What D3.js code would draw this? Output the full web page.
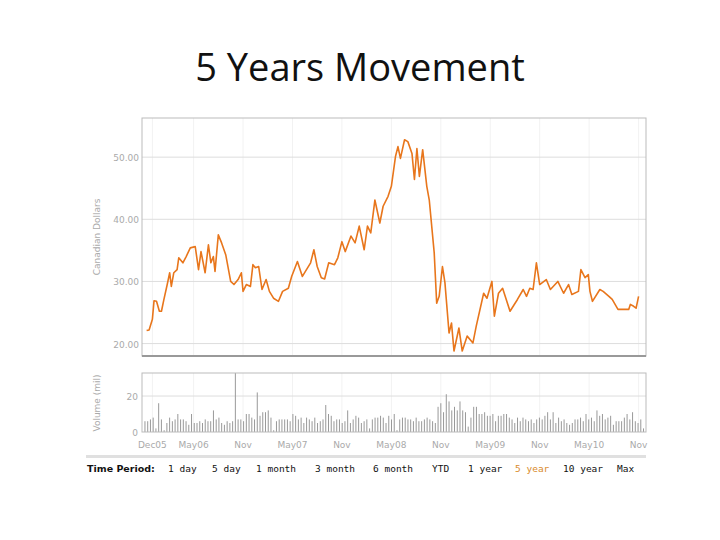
<!DOCTYPE html>
<html><head><meta charset="utf-8">
<script src="https://cdn.jsdelivr.net/npm/d3@7"></script>
<style>body{margin:0;background:#fff}text{font-family:"DejaVu Sans",sans-serif}</style>
</head><body><svg id="c" width="720" height="540"></svg>
<script>
// months since Dec 2005 and closing price (CAD)
const priceMonths = [-0.7,-0.4,0,0.2,0.5,0.85,1.1,1.4,1.8,2.1,2.3,2.6,3.0,3.2,3.7,4.1,4.6,5.2,5.6,5.9,6.4,6.8,7.1,7.4,7.6,8.0,8.4,8.9,9.5,9.9,10.4,10.8,11.0,11.4,11.9,12.2,12.5,12.9,13.3,13.8,14.2,14.7,15.3,15.8,16.5,16.9,17.6,18.2,18.7,19.2,19.6,20.0,20.5,20.9,21.4,22.1,22.5,23.0,23.4,24.1,24.6,25.1,25.7,26.1,26.5,27.0,27.6,28.0,28.6,29.0,29.5,29.8,30.1,30.6,31.0,31.5,31.8,32.1,32.4,32.8,33.3,33.6,34.2,34.5,34.8,35.2,35.5,36.0,36.3,36.6,37.2,37.6,38.2,38.9,39.3,40.2,40.6,41.2,41.5,42.0,42.5,43.4,44.3,45.0,45.4,45.8,46.2,46.6,47.0,47.8,48.3,49.2,49.9,50.5,50.9,51.7,52.0,52.5,52.9,53.1,53.4,54.3,54.7,55.4,55.8,56.5,56.9,57.8,58.0,58.4,58.7,59.0];
const prices = [22.1,22.2,23.9,26.9,26.8,25.2,25.2,27.1,29.5,31.4,29.2,31.4,31.9,33.8,33.0,34.0,35.4,35.6,31.9,34.8,31.4,35.9,33.0,34.0,31.6,37.5,36.2,34.3,30.0,29.5,30.3,31.4,28.4,29.5,29.2,32.7,32.2,32.4,28.7,30.3,28.4,27.3,26.8,28.4,28.9,30.8,33.2,30.8,31.9,33.0,35.1,32.4,30.6,30.4,33.0,32.7,33.8,36.4,34.8,37.3,36.2,38.9,35.1,38.9,37.8,43.1,39.4,42.1,43.7,45.3,50.1,51.7,49.8,52.8,52.5,50.6,46.4,51.4,46.9,51.2,45.3,43.1,34.6,26.5,27.6,32.4,29.8,21.7,23.3,18.8,22.5,18.8,21.2,20.1,22.8,28.1,27.3,30.0,24.4,28.1,28.9,25.2,27.1,28.7,27.6,28.9,28.7,33.0,29.5,30.3,28.7,30.0,28.1,29.5,27.9,28.4,31.9,30.6,31.1,28.4,26.8,28.7,28.4,27.6,27.1,25.5,25.5,25.5,26.3,26.0,25.7,27.6];
// daily volume (millions), sampled evenly across the period
const volumes = [6,6,7,8,2,16,7,1,5,8,6,7,10,7,7,6,4,10,5,5,6,5,7,6,6,12,7,8,5,4,6,5,6,33,7,7,6,10,10,8,7,22,9,11,11,12,8,1,6,7,7,7,7,6,10,9,7,8,5,8,7,6,8,5,6,7,15,10,9,6,7,7,5,6,12,5,7,9,8,5,6,7,2,7,8,8,9,8,5,9,7,10,1,7,8,8,7,7,6,8,6,6,7,8,7,6,5,14,16,11,21,17,12,14,12,17,12,11,3,8,14,14,10,10,11,9,9,10,6,9,9,10,10,8,7,5,8,6,8,7,6,7,5,7,8,7,9,11,7,11,5,8,6,7,5,4,5,7,7,8,6,10,7,8,6,12,9,10,7,8,9,4,6,6,6,8,10,7,11,6,5,7,2];
const tickMonths = [0,5,11,17,23,29,35,41,47,53,59];
const tickLabels = ["Dec05","May06","Nov","May07","Nov","May08","Nov","May09","Nov","May10","Nov"];
const priceTicks = [20,30,40,50];
const periods = ["1 day","5 day","1 month","3 month","6 month","YTD","1 year","5 year","10 year","Max"];
const periodX = [168,212,256,315,373,432,468,515,563,617];

const svg = d3.select("#c");
const orange = "#e8761c", grid = "#dddddd", lab = "#aaaaaa";
const L = 142, R = 646;
const x = d3.scaleLinear().domain([-1.26, 59.9]).range([L, R]);
const y = d3.scaleLinear().domain([18.0, 56.3]).range([356, 118]);
const yv = d3.scaleLinear().domain([0, 32.8]).range([432, 373]);

svg.append("text").attr("x", 360).attr("y", 81).attr("text-anchor", "middle")
  .style("font-family", "'Open Sans'").attr("font-size", 38).attr("fill", "#111").text("5 Years Movement");

// price panel
const g = svg.append("g");
g.selectAll(".vg").data(tickMonths).join("line").attr("x1", x).attr("x2", x)
  .attr("y1", 118).attr("y2", 356).attr("stroke", "#f2f2f2");
g.selectAll(".hg").data(priceTicks).join("line").attr("x1", L).attr("x2", R)
  .attr("y1", y).attr("y2", y).attr("stroke", grid);
g.selectAll(".yl").data(priceTicks).join("text").attr("x", 139).attr("y", d => y(d) + 4)
  .attr("text-anchor", "end").attr("font-size", 9).attr("fill", lab).text(d => d.toFixed(2));
g.append("rect").attr("x", L).attr("y", 118).attr("width", R - L).attr("height", 238)
  .attr("fill", "none").attr("stroke", "#bbb");
g.append("line").attr("x1", L).attr("x2", R).attr("y1", 356).attr("y2", 356).attr("stroke", "#999").attr("stroke-width", 2);
g.append("path").datum(d3.zip(priceMonths, prices)).attr("fill", "none").attr("stroke", orange)
  .attr("stroke-width", 1.6).attr("stroke-linejoin", "round")
  .attr("d", d3.line().x(d => x(d[0])).y(d => y(d[1])));
g.append("text").attr("transform", "translate(100,237) rotate(-90)").attr("text-anchor", "middle")
  .attr("font-size", 9).attr("fill", lab).text("Canadian Dollars");

// volume panel
const v = svg.append("g");
v.selectAll(".vg").data(tickMonths).join("line").attr("x1", x).attr("x2", x)
  .attr("y1", 373).attr("y2", 432).attr("stroke", "#f2f2f2");
v.append("line").attr("x1", L).attr("x2", R).attr("y1", yv(20)).attr("y2", yv(20)).attr("stroke", grid);
const vx = d3.scaleLinear().domain([0, volumes.length - 1]).range([x(-0.9), x(59.6)]);
v.selectAll(".bar").data(volumes).join("line").attr("x1", (d, i) => vx(i)).attr("x2", (d, i) => vx(i))
  .attr("y1", 432).attr("y2", d => yv(Math.min(d, 32.8))).attr("stroke", "#999").attr("stroke-width", 1);
v.append("rect").attr("x", L).attr("y", 373).attr("width", R - L).attr("height", 59)
  .attr("fill", "none").attr("stroke", "#bbb");
v.selectAll(".vl").data([0, 20]).join("text").attr("x", 138).attr("y", d => yv(d) + 4)
  .attr("text-anchor", "end").attr("font-size", 9).attr("fill", lab).text(d => d);
v.append("text").attr("transform", "translate(100,403) rotate(-90)").attr("text-anchor", "middle")
  .attr("font-size", 9).attr("fill", lab).text("Volume (mil)");
v.selectAll(".xl").data(tickMonths).join("text").attr("x", x).attr("y", 448)
  .attr("text-anchor", "middle").attr("font-size", 9).attr("fill", lab).text((d, i) => tickLabels[i]);

// time period bar
svg.append("rect").attr("x", 86).attr("y", 455).attr("width", 560).attr("height", 3).attr("fill", "#e0e0e0");
svg.append("text").attr("x", 87).attr("y", 472).attr("font-size", 9.5).attr("font-weight", "bold")
  .attr("fill", "#111").text("Time Period:");
svg.selectAll(".pp").data(periods).join("text").attr("x", (d, i) => periodX[i]).attr("y", 472)
  .attr("font-size", 9.5).style("font-family", "'DejaVu Sans Mono'")
  .attr("fill", d => d === "5 year" ? "#d98b2b" : "#111").text(d => d);
</script></body></html>
